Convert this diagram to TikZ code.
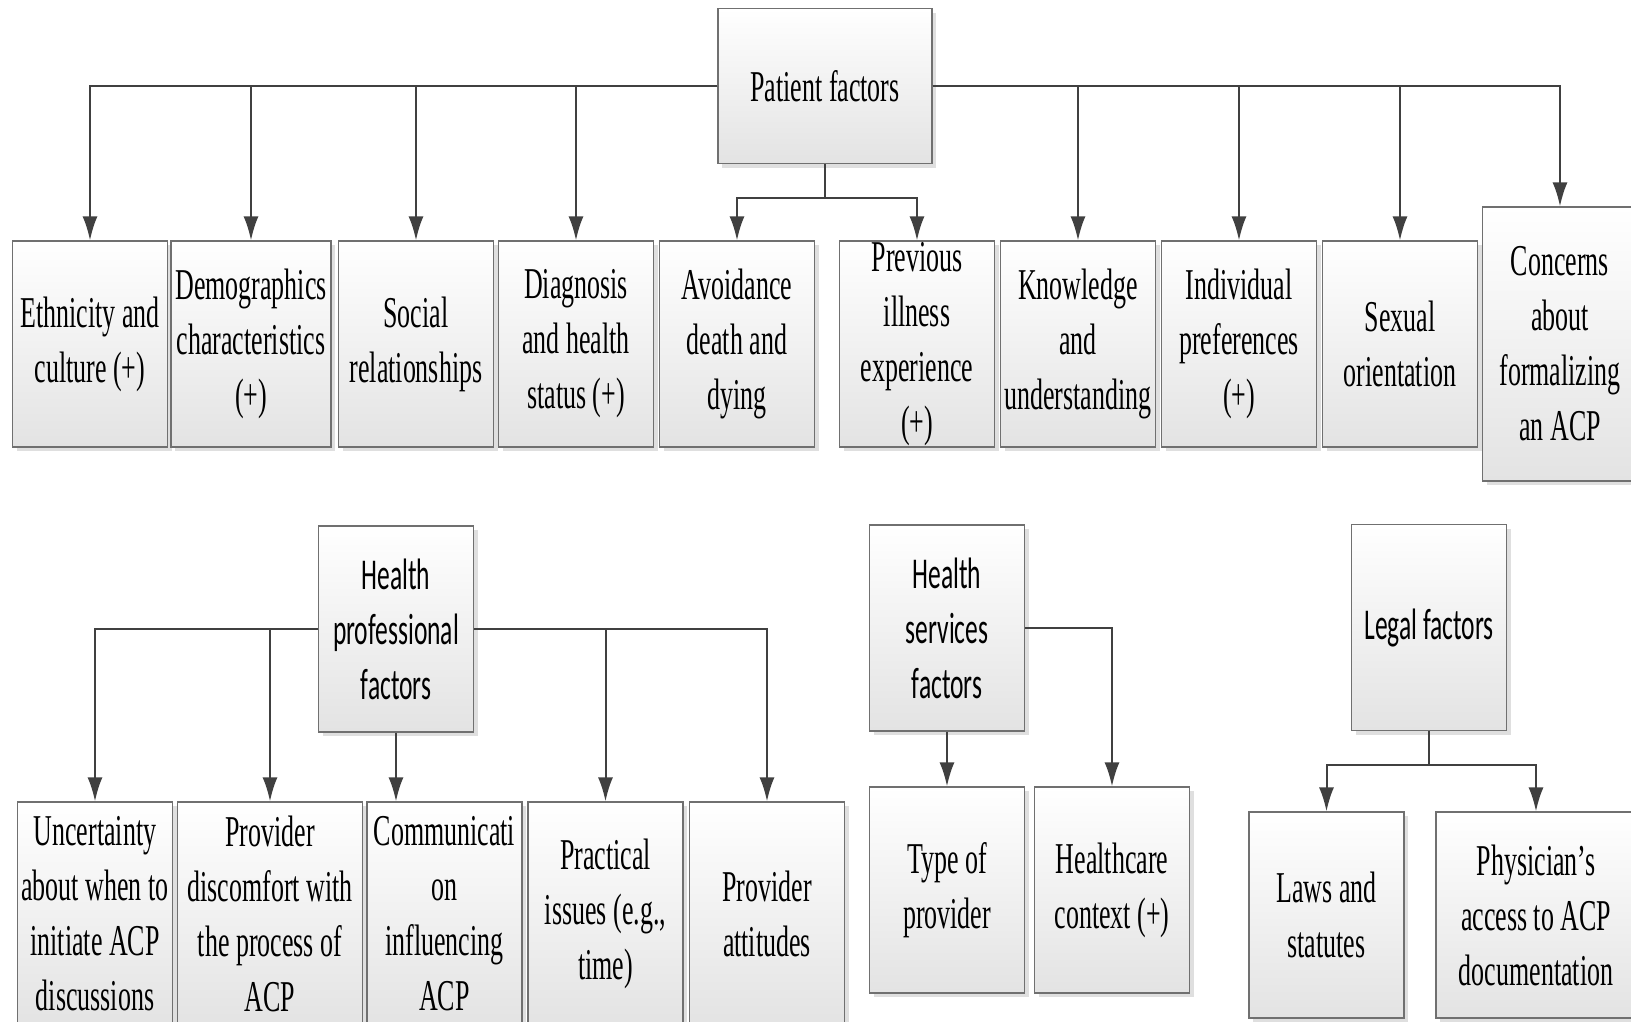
\documentclass[tikz,border=0pt]{standalone}
\usepackage{fontspec}
\setmainfont{Liberation Serif}[FakeStretch=0.59]
\newfontfamily\hdrfont{Carlito}[FakeStretch=0.58]
\usepackage{tikz}
\usetikzlibrary{arrows.meta,shadows}
\definecolor{linkgray}{HTML}{404040}
\definecolor{edgegray}{HTML}{707070}

\begin{document}
\begin{tikzpicture}[x=1pt,y=-1pt,
    box/.style={draw=edgegray, line width=1.2pt, top color=white, bottom color=gray!22,
        drop shadow={shadow xshift=4pt, shadow yshift=-4pt, fill=gray!25, opacity=1},
        align=center, inner sep=0pt, minimum width=155pt, minimum height=206pt,
        font=\fontsize{44}{55}\selectfont},
    hdr/.style={box, font=\hdrfont\fontsize{44}{55}\selectfont},
    lowbox/.style={box, minimum height=224pt},
    link/.style={draw=linkgray, line width=2pt, -{Latex[length=24pt,width=15pt]}}]
    \useasboundingbox (0,0) rectangle (1631,1021);
    % Draw patient factors and its children
    \node[box, minimum width=214pt, minimum height=155pt] (pf) at (825,86) {Patient factors};
    \node[box] (eth) at (90,344) {Ethnicity and\\culture (+)};
    \node[box, minimum width=160pt] (demo) at (251,344) {Demographics\\characteristics\\(+)};
    \node[box] (soc) at (416,344) {Social\\relationships};
    \node[box] (diag) at (576,344) {Diagnosis\\and health\\status (+)};
    \node[box] (avoid) at (737,344) {Avoidance\\death and\\dying};
    \node[box] (prev) at (917,344) {Previous\\illness\\experience\\(+)};
    \node[box] (know) at (1078,344) {Knowledge\\and\\understanding};
    \node[box] (indiv) at (1239,344) {Individual\\preferences\\(+)};
    \node[box] (sex) at (1400,344) {Sexual\\orientation};
    \node[box, minimum height=274pt] (conc) at (1560,344) {Concerns\\about\\formalizing\\an ACP};
    \coordinate (pfj) at (825,198);
    \draw[link] (pf.west) -| (eth.north);
    \draw[link] (pf.west) -| (demo.north);
    \draw[link] (pf.west) -| (soc.north);
    \draw[link] (pf.west) -| (diag.north);
    \draw[link] (pf.south) -- (pfj) -| (avoid.north);
    \draw[link] (pfj) -| (prev.north);
    \draw[link] (pf.east) -| (know.north);
    \draw[link] (pf.east) -| (indiv.north);
    \draw[link] (pf.east) -| (sex.north);
    \draw[link] (pf.east) -| (conc.north);
    % Draw health professional factors
    \node[hdr] (hp) at (396,629) {Health\\professional\\factors};
    \node[lowbox] (unc) at (95,914) {Uncertainty\\about when to\\initiate ACP\\discussions};
    \node[lowbox, minimum width=185pt] (disc) at (270,914) {Provider\\discomfort with\\the process of\\ACP};
    \node[lowbox] (comm) at (444.5,914) {Communicati\\on\\influencing\\ACP};
    \node[lowbox] (prac) at (605.5,914) {Practical\\issues (e.g.,\\time)};
    \node[lowbox] (att) at (767,914) {Provider\\attitudes};
    \draw[link] (hp.west) -| (unc.north);
    \draw[link] (hp.west) -| (disc.north);
    \draw[link] (hp.south) -- (hp.south |- comm.north);
    \draw[link] (hp.east) -| (prac.north);
    \draw[link] (hp.east) -| (att.north);
    % Draw health services factors
    \node[hdr] (hs) at (947,628) {Health\\services\\factors};
    \node[box] (type) at (947,890) {Type of\\provider};
    \node[box] (care) at (1112,890) {Healthcare\\context (+)};
    \draw[link] (hs.south) -- (type.north);
    \draw[link] (hs.east) -| (care.north);
    % Draw legal factors
    \node[hdr] (lf) at (1429,627.5) {Legal factors};
    \node[box] (laws) at (1326.5,915) {Laws and\\statutes};
    \node[box, minimum width=200pt] (phys) at (1536,915) {Physician’s\\access to ACP\\documentation};
    \coordinate (lfj) at (1429,765);
    \draw[link] (lf.south) -- (lfj) -| (laws.north);
    \draw[link] (lfj) -| (phys.north);
\end{tikzpicture}
\end{document}
